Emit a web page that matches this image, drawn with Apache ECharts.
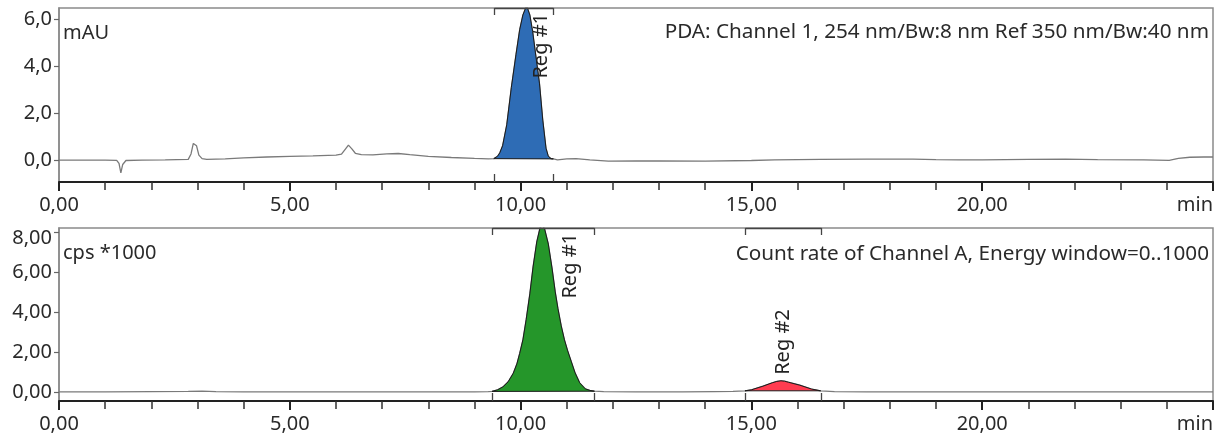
<!DOCTYPE html>
<html><head><meta charset="utf-8">
<script src="https://cdn.jsdelivr.net/npm/echarts@6/dist/echarts.min.js"></script>
<style>html,body{margin:0;padding:0;background:#fff}#c{width:1221px;height:441px}</style>
</head><body><div id="c"></div>
<script>
// ---------- DATA ----------
// Top: PDA channel 1 (mAU) vs time (min)
const pdaTimeA = [0, 0.5, 1.0, 1.25, 1.3, 1.34, 1.38, 1.45, 1.8, 2.3, 2.8, 2.86, 2.91, 2.94, 2.98, 3.03, 3.1, 3.2, 3.6, 4.0, 4.5, 5.0, 5.5, 6.0, 6.12, 6.2, 6.27, 6.34, 6.42, 6.55, 6.8, 7.1, 7.35, 7.6, 8.0, 8.5, 9.0, 9.3];
const pdaSigA  = [-0.01, -0.01, -0.01, -0.02, -0.15, -0.56, -0.2, -0.03, -0.01, 0.0, 0.02, 0.25, 0.7, 0.78, 0.6, 0.2, 0.05, 0.02, 0.04, 0.08, 0.12, 0.15, 0.17, 0.2, 0.24, 0.45, 0.63, 0.48, 0.28, 0.22, 0.21, 0.25, 0.27, 0.22, 0.15, 0.1, 0.06, 0.04];
const pdaPeakTime = [9.42, 9.5, 9.55, 9.61, 9.7, 9.8, 9.9, 9.98, 10.05, 10.13, 10.2, 10.26, 10.34, 10.41, 10.48, 10.55, 10.6, 10.66, 10.71];
const pdaPeakSig  = [0.05, 0.15, 0.3, 0.6, 1.5, 3.1, 4.5, 5.57, 6.2, 6.6, 6.2, 5.5, 4.3, 3.25, 1.7, 0.5, 0.15, 0.05, 0.04];
const pdaTimeC = [10.8, 11.0, 11.2, 11.5, 11.9, 12.5, 13.0, 14.0, 15.0, 15.5, 16.5, 17.5, 18.5, 19.0, 19.5, 20.0, 21.0, 21.8, 22.5, 23.5, 24.05, 24.25, 24.5, 24.8, 25];
const pdaSigC  = [0.0, 0.04, 0.05, 0.0, -0.06, -0.05, -0.05, -0.06, -0.03, 0.0, 0.02, 0.03, 0.03, 0.01, 0.0, 0.0, 0.02, 0.03, 0.01, 0.0, -0.02, 0.06, 0.11, 0.12, 0.12];

// Bottom: count rate (cps *1000) vs time (min)
const radTimeA = [0, 1, 2, 2.8, 3.1, 3.4, 4, 5, 6, 7, 8, 9, 9.3];
const radSigA  = [0, 0, 0.01, 0.02, 0.03, 0.01, 0, 0, 0, 0, 0, 0, 0.01];
const radPeak1Time = [9.38, 9.5, 9.62, 9.73, 9.84, 9.92, 9.98, 10.05, 10.12, 10.2, 10.27, 10.35, 10.42, 10.47, 10.52, 10.6, 10.68, 10.75, 10.81, 10.88, 10.95, 11.02, 11.1, 11.18, 11.28, 11.4, 11.5, 11.6];
const radPeak1Sig  = [0.02, 0.1, 0.25, 0.5, 0.92, 1.4, 1.92, 2.6, 3.6, 4.9, 6.25, 7.5, 8.2, 8.35, 8.15, 7.4, 6.2, 5.0, 4.15, 3.3, 2.6, 2.05, 1.5, 0.95, 0.45, 0.15, 0.07, 0.03];
const radTimeB = [11.8, 12.5, 13.5, 14.2, 14.6];
const radSigB  = [0.01, 0, 0, 0.01, 0.02];
const radPeak2Time = [14.86, 15.0, 15.25, 15.45, 15.55, 15.64, 15.72, 15.8, 16.05, 16.3, 16.5];
const radPeak2Sig  = [0.05, 0.1, 0.28, 0.45, 0.52, 0.55, 0.53, 0.48, 0.33, 0.14, 0.05];
const radTimeC = [16.8, 17.5, 19, 21, 23, 25];
const radSigC  = [0.01, 0, 0, 0, 0, 0];

// Integration regions
const pdaRegionStart = [9.42];
const pdaRegionEnd   = [10.71];
const pdaRegionName  = ['Reg #1'];
const radRegionStart = [9.38, 14.86];
const radRegionEnd   = [11.6, 16.5];
const radRegionName  = ['Reg #1', 'Reg #2'];

// Tick labels
const pdaYTicks = [0, 2, 4, 6];
const radYTicks = [0, 2, 4, 6, 8];

// ---------- BUILD ----------
const zip = (t, v) => t.map((x, i) => [x, v[i]]);
const pdaPeak = zip(pdaPeakTime, pdaPeakSig);
const radPeak1 = zip(radPeak1Time, radPeak1Sig);
const radPeak2 = zip(radPeak2Time, radPeak2Sig);
const pdaTrace = zip(pdaTimeA, pdaSigA).concat(pdaPeak, zip(pdaTimeC, pdaSigC));
const radTrace = zip(radTimeA, radSigA).concat(radPeak1, zip(radTimeB, radSigB), radPeak2, zip(radTimeC, radSigC));

const FONT = '"Noto Sans", sans-serif';
const TXT = '#2a2a2a';

function xAxisCfg(gi) {
  return {
    type: 'value', gridIndex: gi, min: 0, max: 25, interval: 5,
    axisLine: { show: true, onZero: false, lineStyle: { color: '#222', width: 2 } },
    axisTick: { show: true, length: 9, lineStyle: { color: '#222', width: 2 } },
    minorTick: { show: true, splitNumber: 5, length: 8, lineStyle: { color: '#333', width: 1.5 } },
    splitLine: { show: false },
    axisLabel: {
      margin: 13, color: TXT, fontFamily: FONT, fontSize: 20,
      showMinLabel: true, showMaxLabel: true, alignMaxLabel: 'right',
      formatter: v => v >= 25 ? 'min' : v.toFixed(2).replace('.', ',')
    }
  };
}
function yAxisCfg(gi, min, max, ticks, dec, shiftTop) {
  const topTick = ticks[ticks.length - 1];
  return {
    type: 'value', gridIndex: gi, min: min, max: max,
    axisLine: { show: true, lineStyle: { color: '#8a8a8a', width: 1.5 } },
    axisTick: { show: true, length: 5, customValues: ticks, lineStyle: { color: '#666', width: 1.2 } },
    splitLine: { show: false },
    axisLabel: {
      margin: 7, color: TXT, fontFamily: FONT, fontSize: 20, customValues: ticks,
      formatter: v => {
        const s = v.toFixed(dec).replace('.', ',');
        return (shiftTop && v === topTick) ? '{low|' + s + '}' : s;
      },
      rich: { low: { padding: [12, 0, 0, 0], color: TXT, fontFamily: FONT, fontSize: 20 } }
    }
  };
}
function peakSeries(gi, points, color) {
  return {
    type: 'custom', xAxisIndex: gi, yAxisIndex: gi, z: 3, clip: true, silent: true,
    encode: { x: 0, y: 1 },
    data: [points[0]],
    renderItem: (params, api) => ({
      type: 'polygon',
      shape: { points: points.map(p => api.coord(p)) },
      style: { fill: color, stroke: '#1a1a1a', lineWidth: 1 }
    })
  };
}
function regionSeries(gi, starts, ends, names, peaks) {
  return {
    type: 'custom', xAxisIndex: gi, yAxisIndex: gi, z: 5, clip: false, silent: true,
    dimensions: ['s', 'e', 'b', 'i'],
    encode: { x: [0, 1], y: 2 },
    data: starts.map((s, i) => [s, ends[i], 0, i]),
    renderItem: (params, api) => {
      const i = api.value(3);
      const cs = params.coordSys;
      const top = cs.y, bot = cs.y + cs.height;
      const x1 = Math.round(api.coord([api.value(0), 0])[0]) + 0.5;
      const x2 = Math.round(api.coord([api.value(1), 0])[0]) + 0.5;
      const pk = peaks[i];
      let apex = pk[0];
      pk.forEach(p => { if (p[1] > apex[1]) apex = p; });
      const ap = api.coord(apex);
      const apY = Math.max(ap[1], top);
      const line = (xa, ya, xb, yb) => ({ type: 'line', shape: { x1: xa, y1: ya, x2: xb, y2: yb }, style: { stroke: '#444', lineWidth: 1.3 } });
      const children = [
        line(x1, top + 0.5, x2, top + 0.5),
        line(x1, top, x1, top + 7), line(x2, top, x2, top + 7),
        line(x1, bot, x1, bot - 8), line(x2, bot, x2, bot - 8)
      ];
      let tx, ty, align;
      if (apY - 80 > top) { tx = ap[0] + 2; ty = apY - 6; align = 'left'; }
      else { tx = ap[0] + 0.53 * (x2 - ap[0]); ty = top + 5; align = 'right'; }
      children.push({
        type: 'text', x: tx, y: ty, rotation: Math.PI / 2,
        style: { text: names[i], fill: '#222', font: '20px ' + FONT, align: align, verticalAlign: 'middle' }
      });
      return { type: 'group', children: children };
    }
  };
}

const option = {
  animation: false,
  backgroundColor: '#fff',
  grid: [
    { left: 59, top: 8, width: 1154, height: 174, show: true, borderColor: '#8a8a8a', borderWidth: 1.5, containLabel: false },
    { left: 59, top: 228, width: 1154, height: 173, show: true, borderColor: '#8a8a8a', borderWidth: 1.5, containLabel: false }
  ],
  xAxis: [xAxisCfg(0), xAxisCfg(1)],
  yAxis: [yAxisCfg(0, -0.95, 6.5, pdaYTicks, 1, false), yAxisCfg(1, -0.46, 8.2, radYTicks, 2, true)],
  series: [
    { type: 'line', xAxisIndex: 0, yAxisIndex: 0, data: pdaTrace, showSymbol: false, z: 2,
      lineStyle: { color: '#7a7a7a', width: 1.3 }, silent: true },
    { type: 'line', xAxisIndex: 1, yAxisIndex: 1, data: radTrace, showSymbol: false, z: 2,
      lineStyle: { color: '#7a7a7a', width: 1.3 }, silent: true },
    peakSeries(0, pdaPeak, '#2e6cb5'),
    peakSeries(1, radPeak1, '#25962a'),
    peakSeries(1, radPeak2, '#ff3c50'),
    regionSeries(0, pdaRegionStart, pdaRegionEnd, pdaRegionName, [pdaPeak]),
    regionSeries(1, radRegionStart, radRegionEnd, radRegionName, [radPeak1, radPeak2])
  ],
  graphic: [
    { type: 'text', left: 63, top: 23, style: { text: 'mAU', fill: TXT, font: '20px ' + FONT } },
    { type: 'text', left: 63, top: 243, style: { text: 'cps *1000', fill: TXT, font: '20px ' + FONT } },
    { type: 'text', right: 12, top: 22, style: { text: 'PDA: Channel 1, 254 nm/Bw:8 nm Ref 350 nm/Bw:40 nm', fill: TXT, font: '20.7px ' + FONT } },
    { type: 'text', right: 12, top: 244, style: { text: 'Count rate of Channel A, Energy window=0..1000', fill: TXT, font: '20.7px ' + FONT } }
  ]
};
const chart = echarts.init(document.getElementById('c'));
chart.setOption(option);
</script>
</body></html>
